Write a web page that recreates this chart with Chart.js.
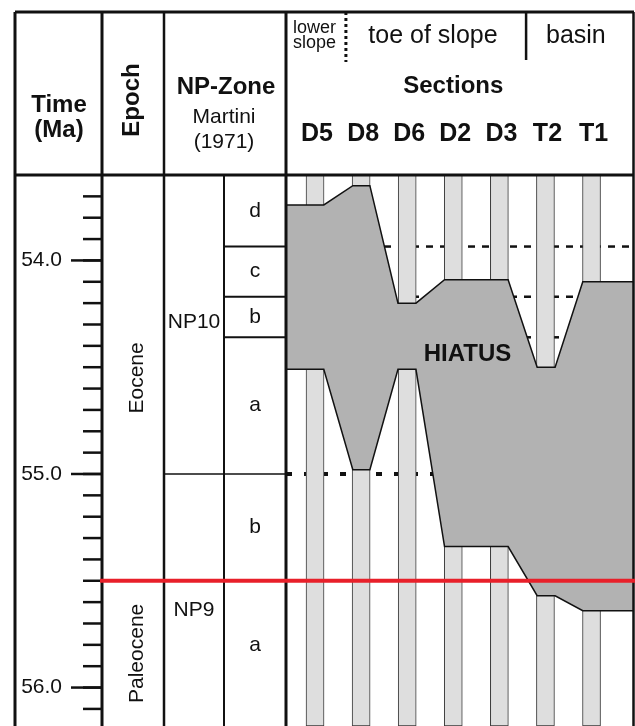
<!DOCTYPE html>
<html>
<head>
<meta charset="utf-8">
<script src="https://cdn.jsdelivr.net/npm/chart.js@4.4.0/dist/chart.umd.min.js"></script>
<style>
  html, body { margin: 0; padding: 0; background: #fff; }
  canvas { display: block; }
</style>
</head>
<body>
<canvas id="myChart" width="635" height="726"></canvas>
<script>
/* Time window shown (Ma) */
const ageMin = 53.6;
const ageMax = 56.18;

/* Sections, left to right */
const sections = ['D5', 'D8', 'D6', 'D2', 'D3', 'T2', 'T1'];
const sectionPos = [0, 1, 2, 3, 4, 5, 6];

/* Hiatus outline: upper and lower limits along the sections */
const hiatusTopX   = [-0.63, 0.19, 0.82, 1.19, 1.80, 2.19, 2.81, 4.19, 4.82, 5.21, 5.81, 6.9];
const hiatusTopAge = [53.74, 53.74, 53.65, 53.65, 54.20, 54.20, 54.09, 54.09, 54.50, 54.50, 54.10, 54.10];
const hiatusBaseX   = [-0.63, 0.19, 0.82, 1.19, 1.80, 2.19, 2.81, 4.19, 4.82, 5.21, 5.81, 6.9];
const hiatusBaseAge = [54.51, 54.51, 54.98, 54.98, 54.51, 54.51, 55.34, 55.34, 55.57, 55.57, 55.64, 55.64];
const hiatusLabel = { x: 3.31, age: 54.44 };

/* Time scale */
const tickValues = [54.0, 55.0, 56.0];
const tickLabels = ['54.0', '55.0', '56.0'];

/* Epochs */
const epochs = ['Eocene', 'Paleocene'];
const epochBase = [55.5, 56.18];
const epochBoundary = 55.5;

/* NP zones (Martini 1971) */
const npZones = ['NP10', 'NP9'];
const npLabelAge = [54.29, 55.64];
const npBoundary = 55.0;
const subzones = ['d', 'c', 'b', 'a', 'b', 'a'];
const subzoneBase = [53.935, 54.17, 54.36, 55.0, 55.5, 56.1];

/* correlation lines carried into the sections */
const dashedAges = [53.935, 54.17, 54.36];
const dottedAge = 55.0;

/* facies belts in header */
const facies = ['toe of slope', 'basin'];
const faciesAt = [2.56, 5.66];
const faciesDividers = [0.67, 4.58];

const FONT = '"Liberation Sans", Arial, sans-serif';

function txt(ctx, s, x, y, font, align, base) {
  ctx.font = font;
  ctx.textAlign = align || 'center';
  ctx.textBaseline = base || 'alphabetic';
  ctx.fillText(s, x, y);
}
function vtxt(ctx, s, x, y, font) {
  ctx.save();
  ctx.translate(x, y);
  ctx.rotate(-Math.PI / 2);
  txt(ctx, s, 0, 0, font, 'center', 'alphabetic');
  ctx.restore();
}
function seg(ctx, x1, y1, x2, y2, w) {
  ctx.lineWidth = w;
  ctx.beginPath();
  ctx.moveTo(x1, y1);
  ctx.lineTo(x2, y2);
  ctx.stroke();
}

const frame = {
  id: 'frame',
  afterDatasetsDraw(chart) {
    const c = chart.ctx;
    const X = chart.scales.x, Y = chart.scales.y;
    const a = chart.chartArea;
    const L = 15, colTime = 102, colEpoch = 164, colSub = 224, R = a.right, top = 12;
    c.save();
    c.fillStyle = '#111';
    c.strokeStyle = '#111';

    // hiatus label
    txt(c, 'HIATUS', X.getPixelForValue(hiatusLabel.x), Y.getPixelForValue(hiatusLabel.age), 'bold 24px ' + FONT, 'center', 'middle');

    // frame
    seg(c, L, top, R + 1, top, 3);
    seg(c, L, a.top, R + 1, a.top, 3);
    seg(c, L, top, L, a.bottom, 3);
    seg(c, colTime, top, colTime, a.bottom, 3);
    seg(c, colEpoch, top, colEpoch, a.bottom, 2.5);
    seg(c, colSub, a.top, colSub, a.bottom, 2);
    seg(c, a.left, top, a.left, a.bottom, 3);
    seg(c, R + 0.5, top, R + 0.5, a.bottom, 2.5);

    // header
    txt(c, 'Time', 59, 112, 'bold 24px ' + FONT);
    txt(c, '(Ma)', 59, 137, 'bold 24px ' + FONT);
    vtxt(c, 'Epoch', 139, 100, 'bold 24px ' + FONT);
    txt(c, 'NP-Zone', 226, 94, 'bold 24px ' + FONT);
    txt(c, 'Martini', 224, 123, '21px ' + FONT);
    txt(c, '(1971)', 224, 148, '21px ' + FONT);
    txt(c, 'lower', 293, 33, '18px ' + FONT, 'left');
    txt(c, 'slope', 293, 48, '18px ' + FONT, 'left');
    facies.forEach((f, i) => txt(c, f, X.getPixelForValue(faciesAt[i]), 43, '25px ' + FONT));
    c.setLineDash([3, 3]);
    seg(c, X.getPixelForValue(faciesDividers[0]), top, X.getPixelForValue(faciesDividers[0]), 62, 3);
    c.setLineDash([]);
    seg(c, X.getPixelForValue(faciesDividers[1]), top, X.getPixelForValue(faciesDividers[1]), 60, 2.5);
    txt(c, 'Sections', X.getPixelForValue(3), 93, 'bold 24px ' + FONT);
    sections.forEach((s, i) => txt(c, s, X.getPixelForValue(sectionPos[i]) + 2, 141, 'bold 25px ' + FONT));

    // time ticks
    for (let t = 53.7; t < ageMax; t += 0.1) {
      const y = Y.getPixelForValue(t);
      seg(c, 83, y, colTime, y, 2.5);
    }
    tickValues.forEach((t, i) => {
      const y = Y.getPixelForValue(t);
      seg(c, 71, y, colTime, y, 2.5);
      txt(c, tickLabels[i], 62, y, '21px ' + FONT, 'right', 'middle');
    });

    // epochs
    let prev = ageMin;
    epochs.forEach((e, i) => {
      vtxt(c, e, 143, Y.getPixelForValue((prev + epochBase[i]) / 2), '21px ' + FONT);
      prev = epochBase[i];
    });

    // NP zones
    npZones.forEach((z, i) => txt(c, z, 194, Y.getPixelForValue(npLabelAge[i]), '21px ' + FONT, 'center', 'middle'));
    const yb = Y.getPixelForValue(npBoundary);
    seg(c, colEpoch, yb, a.left, yb, 1.5);
    prev = ageMin;
    subzones.forEach((s, i) => {
      txt(c, s, 255, Y.getPixelForValue((prev + subzoneBase[i]) / 2), '21px ' + FONT, 'center', 'middle');
      if (subzoneBase[i] < npBoundary) {
        const y = Y.getPixelForValue(subzoneBase[i]);
        seg(c, colSub, y, a.left, y, 2);
      }
      prev = subzoneBase[i];
    });

    // Paleocene / Eocene boundary
    c.strokeStyle = '#e8202a';
    const ye = Y.getPixelForValue(epochBoundary);
    seg(c, colTime - 2, ye, R + 2, ye, 4);
    c.restore();
  }
};

function hline(age, dash, width) {
  return {
    type: 'line',
    data: [{ x: -0.63, y: age }, { x: 6.9, y: age }],
    borderColor: '#111',
    borderWidth: width,
    borderDash: dash,
    pointRadius: 0,
    fill: false,
    order: 20
  };
}

const datasets = [];
dashedAges.forEach(a => datasets.push(hline(a, [7, 7], 2.5)));
datasets.push(hline(dottedAge, [6, 12], 4));
datasets.push({
  type: 'bar',
  data: sectionPos.map(p => ({ x: p, y: [ageMin, ageMax] })),
  backgroundColor: '#dedede',
  borderColor: '#3a3a3a',
  borderWidth: 1,
  borderSkipped: false,
  barThickness: 18,
  order: 10
});
datasets.push({
  type: 'line',
  data: hiatusTopX.map((x, i) => ({ x: x, y: hiatusTopAge[i] })),
  borderColor: '#111',
  borderWidth: 1.5,
  backgroundColor: '#b2b2b2',
  fill: '+1',
  pointRadius: 0,
  tension: 0,
  order: 2
});
datasets.push({
  type: 'line',
  data: hiatusBaseX.map((x, i) => ({ x: x, y: hiatusBaseAge[i] })),
  borderColor: '#111',
  borderWidth: 1.5,
  fill: false,
  pointRadius: 0,
  tension: 0,
  order: 1
});

var ctx = document.getElementById('myChart').getContext('2d');
var chart = new Chart(ctx, {
  type: 'bar',
  data: { datasets: datasets },
  options: {
    responsive: false,
    animation: false,
    layout: { padding: { left: 286, top: 175, right: 2, bottom: 0 } },
    plugins: { legend: { display: false }, tooltip: { enabled: false } },
    scales: {
      x: { type: 'linear', min: -0.63, max: 6.9, offset: false, display: false },
      y: { type: 'linear', min: ageMin, max: ageMax, reverse: true, display: false }
    }
  },
  plugins: [frame]
});
</script>
</body>
</html>
